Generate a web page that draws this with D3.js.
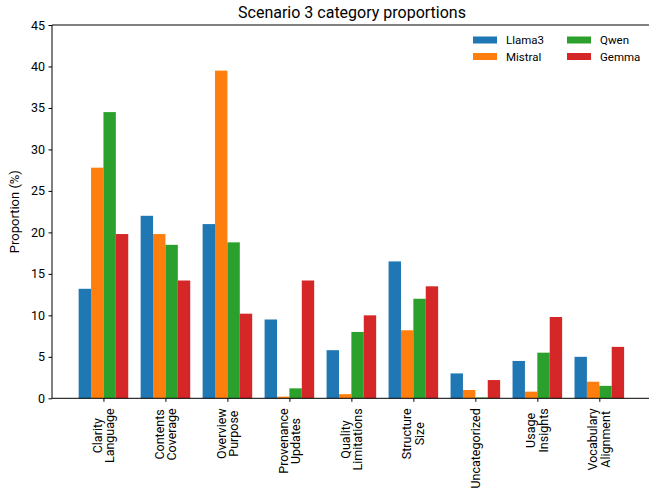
<!DOCTYPE html>
<html>
<head>
<meta charset="utf-8">
<script src="https://cdn.jsdelivr.net/npm/d3@7"></script>
<style>
  body { margin: 0; background: #fff; }
  text { font-family: Roboto, "DejaVu Sans", sans-serif; fill: #000; }
</style>
</head>
<body>
<svg id="main" width="649" height="489"></svg>
<script>
const categories = [
  ["Clarity", "Language"],
  ["Contents", "Coverage"],
  ["Overview", "Purpose"],
  ["Provenance", "Updates"],
  ["Quality", "Limitations"],
  ["Structure", "Size"],
  ["Uncategorized"],
  ["Usage", "Insights"],
  ["Vocabulary", "Alignment"]
];
const models = ["Llama3", "Mistral", "Qwen", "Gemma"];
const colors = ["#1f77b4", "#ff7f0e", "#2ca02c", "#d62728"];

const llama3 = [13.2, 22.0, 21.0, 9.5, 5.8, 16.5, 3.0, 4.5, 5.0];
const mistral = [27.8, 19.8, 39.5, 0.2, 0.5, 8.2, 1.0, 0.8, 2.0];
const qwen = [34.5, 18.5, 18.8, 1.2, 8.0, 12.0, 0.1, 5.5, 1.5];
const gemma = [19.8, 14.2, 10.2, 14.2, 10.0, 13.5, 2.2, 9.8, 6.2];
const series = [llama3, mistral, qwen, gemma];

const yTicks = [0, 5, 10, 15, 20, 25, 30, 35, 40, 45];

const svg = d3.select("#main");
const padL = 52, padR = 652, padT = 25, padB = 398.3;
const barW = 0.2;

const x = d3.scaleLinear().domain([-0.83, 8.85]).range([padL, padR]);
const y = d3.scaleLinear().domain([0, 45]).range([padB, padT]);

// bars
series.forEach((vals, s) => {
  svg.append("g")
    .selectAll("rect")
    .data(vals)
    .enter()
    .append("rect")
    .attr("x", (d, i) => x(i + (s - 1.5) * barW - barW / 2))
    .attr("width", x(barW) - x(0))
    .attr("y", d => y(d))
    .attr("height", d => y(0) - y(d))
    .attr("fill", colors[s]);
});

// y axis
const yAxis = svg.append("g")
  .attr("transform", `translate(${padL},0)`)
  .call(d3.axisLeft(y).tickValues(yTicks).tickSize(3.5).tickPadding(3.5));
yAxis.select(".domain").remove();
yAxis.selectAll("text").style("font-size", "12.5px").style("font-family", "Roboto");

// x axis
const xAxis = svg.append("g")
  .attr("transform", `translate(0,${padB})`)
  .call(d3.axisBottom(x).tickValues(d3.range(categories.length)).tickSize(3.5).tickFormat(""));
xAxis.select(".domain").remove();

// rotated category labels, lines centred on each other, block ends just under the axis
categories.forEach((lines, i) => {
  const n = lines.length;
  const g = svg.append("g")
    .attr("transform", `translate(${x(i)},${padB + 10}) rotate(-90)`);
  lines.forEach((ln, j) => {
    g.append("text")
      .attr("y", (j - (n - 1) / 2) * 12.5)
      .attr("dy", "0.35em")
      .attr("text-anchor", "middle")
      .style("font-size", "12.5px")
      .text(ln);
  });
  const widths = [];
  g.selectAll("text").each(function() { widths.push(this.getComputedTextLength()); });
  g.selectAll("text").attr("x", -d3.max(widths) / 2);
});

// spines
svg.append("line").attr("x1", padL).attr("x2", padL).attr("y1", padT).attr("y2", padB)
  .attr("stroke", "#000").attr("stroke-width", 1);
svg.append("line").attr("x1", padL).attr("x2", padR).attr("y1", padB).attr("y2", padB)
  .attr("stroke", "#000").attr("stroke-width", 1);
svg.append("line").attr("x1", padL).attr("x2", padR).attr("y1", padT).attr("y2", padT)
  .attr("stroke", "#000").attr("stroke-width", 1);

// title and y label
svg.append("text")
  .attr("x", (padL + padR) / 2)
  .attr("y", 18)
  .attr("text-anchor", "middle")
  .style("font-size", "16px")
  .text("Scenario 3 category proportions");

svg.append("text")
  .attr("transform", `translate(19,${(padT + padB) / 2}) rotate(-90)`)
  .attr("text-anchor", "middle")
  .style("font-size", "13px")
  .text("Proportion (%)");

// legend, two columns
const legend = svg.append("g");
models.forEach((m, k) => {
  const col = Math.floor(k / 2), row = k % 2;
  const lx = 473 + col * 94, ly = 40 + row * 16.5;
  legend.append("rect")
    .attr("x", lx).attr("y", ly - 3.5)
    .attr("width", 24).attr("height", 7)
    .attr("fill", colors[k]);
  legend.append("text")
    .attr("x", lx + 33).attr("y", ly)
    .attr("dy", "0.35em")
    .style("font-size", "11.5px")
    .text(m);
});
</script>
</body>
</html>
